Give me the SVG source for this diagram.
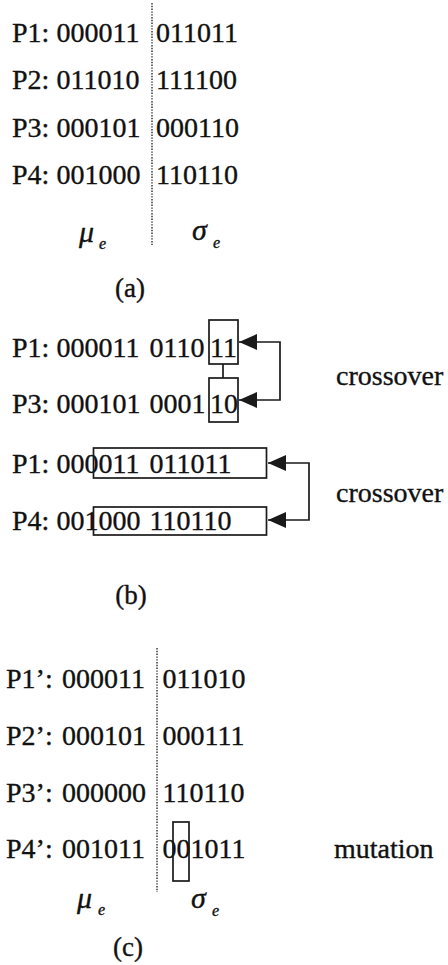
<svg xmlns="http://www.w3.org/2000/svg" width="448" height="965" viewBox="0 0 448 965" font-family="'Liberation Serif', 'Times New Roman', 'DejaVu Serif', serif">
<style>
text{font-family:'Liberation Serif','Times New Roman','DejaVu Serif',serif;font-size:28px;fill:#111;stroke:#111;stroke-width:0.35}
.cap{font-size:27px}
.gr{font-style:italic;font-size:30px}
.sub{font-style:italic;font-size:16px}
.box{fill:none;stroke:#1a1a1a;stroke-width:1.7}
.dot{stroke:#1a1a1a;stroke-width:1.3;stroke-dasharray:1.4 1.4;fill:none}
.con{fill:none;stroke:#1a1a1a;stroke-width:1.7}
</style>
<defs>
<marker id="ah" viewBox="0 0 18 16" markerUnits="userSpaceOnUse" markerWidth="18" markerHeight="16" refX="18" refY="8" orient="auto-start-reverse">
<path d="M0,0 L18,8 L0,16 z" fill="#1a1a1a"/>
</marker>
</defs>

<g id="panel-a">
<line class="dot" x1="152" y1="3" x2="152" y2="245"/>
<g id="a-P1"><text x="12" y="42">P1: <tspan x="56.5">000011</tspan><tspan x="156">011011</tspan></text></g>
<g id="a-P2"><text x="12" y="89">P2: <tspan x="56.5">011010</tspan><tspan x="156">111100</tspan></text></g>
<g id="a-P3"><text x="12" y="137">P3: <tspan x="56.5">000101</tspan><tspan x="156">000110</tspan></text></g>
<g id="a-P4"><text x="12" y="184">P4: <tspan x="56.5">001000</tspan><tspan x="156">110110</tspan></text></g>
<g id="a-mu"><text class="gr" x="79" y="242">μ</text><text class="sub" x="99" y="249">e</text></g>
<g id="a-sigma"><text class="gr" x="192" y="240">σ</text><text class="sub" x="213" y="248">e</text></g>
<text class="cap" x="130" y="297" text-anchor="middle">(a)</text>
</g>

<g id="panel-b">
<g id="b-P1"><text x="12" y="357">P1: <tspan x="56.5">000011</tspan><tspan x="149.5">0110</tspan><tspan x="210">11</tspan></text>
<rect class="box" x="209" y="320" width="29" height="44"/></g>
<g id="b-P3"><text x="12" y="413">P3: <tspan x="56.5">000101</tspan><tspan x="149.5">0001</tspan><tspan x="210">10</tspan></text>
<rect class="box" x="209" y="378" width="29" height="44"/></g>
<g id="b-P1b"><text x="12" y="473">P1: <tspan x="56.5">000011</tspan><tspan x="149.5">011011</tspan></text>
<rect class="box" x="93.5" y="448" width="173" height="30"/></g>
<g id="b-P4"><text x="12" y="530">P4: <tspan x="56.5">001000</tspan><tspan x="149.5">110110</tspan></text>
<rect class="box" x="93.5" y="507" width="173" height="28"/></g>
<text x="336" y="385">crossover</text>
<text x="336" y="502">crossover</text>
<text class="cap" x="131" y="604" text-anchor="middle">(b)</text>
</g>

<g id="panel-c">
<line class="dot" x1="157" y1="648" x2="157" y2="892"/>
<g id="c-P1"><text x="6" y="688">P1’: <tspan x="62">000011</tspan><tspan x="162.5">011010</tspan></text></g>
<g id="c-P2"><text x="6" y="745">P2’: <tspan x="62">000101</tspan><tspan x="162.5">000111</tspan></text></g>
<g id="c-P3"><text x="6" y="802">P3’: <tspan x="62">000000</tspan><tspan x="162.5">110110</tspan></text></g>
<g id="c-P4"><text x="6" y="858">P4’: <tspan x="62">001011</tspan><tspan x="162.5">001011</tspan></text>
<rect class="box" x="173" y="822" width="16" height="59"/></g>
<text x="334" y="858">mutation</text>
<g id="c-mu"><text class="gr" x="77" y="908">μ</text><text class="sub" x="98" y="915">e</text></g>
<g id="c-sigma"><text class="gr" x="191" y="908">σ</text><text class="sub" x="212" y="916">e</text></g>
<text class="cap" x="128" y="956" text-anchor="middle">(c)</text>
</g>

<g id="connectors">
<line class="con" x1="223" y1="364" x2="223" y2="378"/>
<path class="con" d="M239,342 H280 V400 H239" marker-start="url(#ah)" marker-end="url(#ah)"/>
<path class="con" d="M268,463 H309 V520 H268" marker-start="url(#ah)" marker-end="url(#ah)"/>
</g>
</svg>
